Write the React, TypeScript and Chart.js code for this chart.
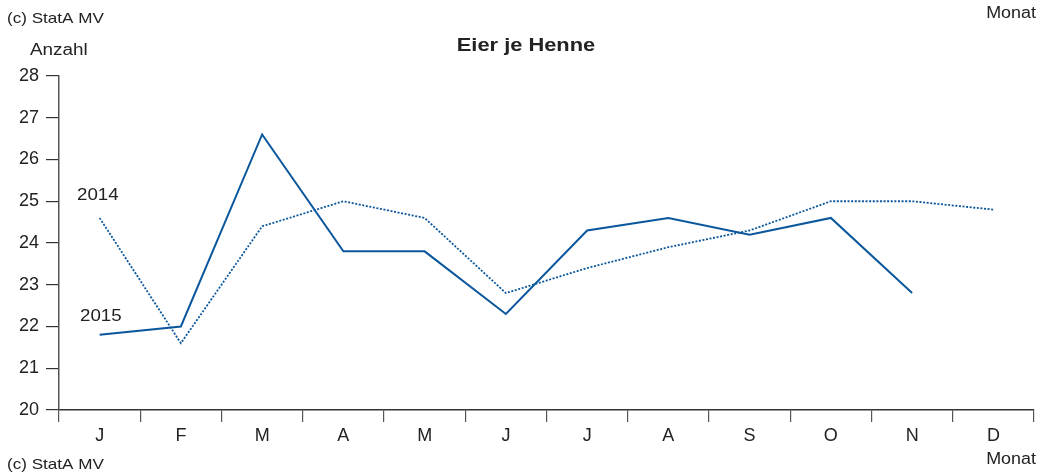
import React, { useEffect, useRef } from "react";
import { Chart, registerables } from "chart.js";

Chart.register(...registerables);

const months = ["J", "F", "M", "A", "M", "J", "J", "A", "S", "O", "N", "D"];
const eggs2015 = [21.8, 22.0, 26.6, 23.8, 23.8, 22.3, 24.3, 24.6, 24.2, 24.6, 22.8, null];
const eggs2014 = [24.6, 21.6, 24.4, 25.0, 24.6, 22.8, 23.4, 23.9, 24.3, 25.0, 25.0, 24.8];
const yMin = 20;
const yMax = 28;

const lineColor = "#0b579c";
const textColor = "#222222";
const axisColor = "#555555";
const fontFamily = "'Liberation Sans', Arial, Helvetica, sans-serif";

const textPlugin = {
  id: "texts",
  afterDraw(chart: any) {
    const ctx = chart.ctx;
    const put = (t: string, x: number, y: number, align: CanvasTextAlign, font: string, sx = 1.12) => {
      ctx.save();
      ctx.fillStyle = textColor;
      ctx.font = font;
      ctx.textBaseline = "middle";
      ctx.textAlign = align;
      ctx.translate(x, y);
      ctx.scale(sx, 1);
      ctx.fillText(t, 0, 0);
      ctx.restore();
    };
    const f = `16px ${fontFamily}`;
    put("(c) StatA MV", 7, 19, "left", `15px ${fontFamily}`, 1.14);
    put("(c) StatA MV", 7, 465, "left", `15px ${fontFamily}`, 1.14);
    put("Monat", 1036, 14, "right", f);
    put("Monat", 1036, 460, "right", f);
    put("Anzahl", 30, 51, "left", f, 1.18);
    put("Eier je Henne", 526, 46, "center", `bold 19px ${fontFamily}`, 1.15);
    put("2014", 77, 196, "left", f, 1.17);
    put("2015", 80, 317, "left", f, 1.17);
  },
};

export default function App() {
  const ref = useRef<HTMLCanvasElement | null>(null);
  useEffect(() => {
    if (!ref.current) return;
    const chart = new Chart(ref.current, {
      type: "line",
      data: {
        labels: months,
        datasets: [
          {
            label: "2015",
            data: eggs2015,
            borderColor: lineColor,
            borderWidth: 2,
            pointRadius: 0,
            tension: 0,
            fill: false,
          },
          {
            label: "2014",
            data: eggs2014,
            borderColor: lineColor,
            borderWidth: 1.8,
            borderDash: [2, 1.6],
            pointRadius: 0,
            tension: 0,
            fill: false,
          },
        ],
      },
      options: {
        animation: false,
        responsive: true,
        maintainAspectRatio: false,
        layout: { padding: { left: 0, right: 12, top: 76, bottom: 0 } },
        plugins: {
          legend: { display: false },
          title: { display: false },
          tooltip: { enabled: false },
        },
        scales: {
          x: {
            type: "category",
            offset: true,
            grid: {
              offset: true,
              drawOnChartArea: false,
              drawTicks: true,
              tickLength: 12,
              color: axisColor,
              lineWidth: 1.2,
            },
            border: { display: true, color: "#333333", width: 1.5 },
            ticks: {
              color: textColor,
              font: { family: fontFamily, size: 18 },
              padding: 3,
              maxRotation: 0,
              autoSkip: false,
            },
            afterFit(scale: any) {
              scale.height = 63;
            },
          },
          y: {
            min: yMin,
            max: yMax,
            grid: {
              drawOnChartArea: false,
              drawTicks: true,
              tickLength: 13,
              color: "#333333",
              lineWidth: 1.2,
            },
            border: { display: true, color: "#555555", width: 1.5 },
            ticks: {
              stepSize: 1,
              color: textColor,
              font: { family: fontFamily, size: 18 },
              padding: 7,
            },
            afterFit(scale: any) {
              scale.width = 59;
            },
          },
        },
      },
      plugins: [textPlugin],
    });
    return () => chart.destroy();
  }, []);

  return (
    <div style={{ position: "fixed", left: 0, top: 0, width: 1046, height: 473, background: "#fff" }}>
      <canvas ref={ref} />
    </div>
  );
}
